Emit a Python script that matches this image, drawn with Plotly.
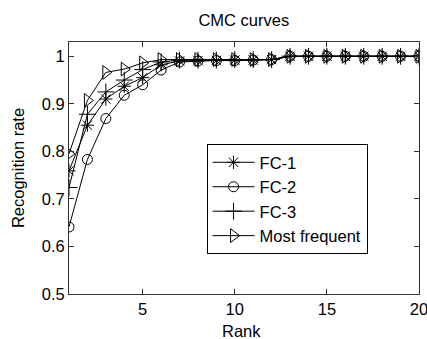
import plotly.graph_objects as go

rank = list(range(1, 21))
fc1 = [0.759, 0.855, 0.910, 0.937, 0.955, 0.982, 0.990, 0.991, 0.991, 0.992, 0.992, 0.993,
       1.0, 1.0, 1.0, 1.0, 1.0, 1.0, 1.0, 1.0]
fc2 = [0.641, 0.783, 0.869, 0.918, 0.940, 0.971, 0.988, 0.990, 0.991, 0.991, 0.992, 0.993,
       1.0, 1.0, 1.0, 1.0, 1.0, 1.0, 1.0, 1.0]
fc3 = [0.724, 0.878, 0.925, 0.950, 0.972, 0.988, 0.992, 0.992, 0.992, 0.993, 0.993, 0.993,
       1.0, 1.0, 1.0, 1.0, 1.0, 1.0, 1.0, 1.0]
most_freq = [0.795, 0.907, 0.966, 0.973, 0.986, 0.993, 0.993, 0.993, 0.993, 0.993, 0.993, 0.993,
             1.0, 1.0, 1.0, 1.0, 1.0, 1.0, 1.0, 1.0]
x_ticks = [5, 10, 15, 20]
y_ticks = [0.5, 0.6, 0.7, 0.8, 0.9, 1.0]
y_ticklabels = ["0.5", "0.6", "0.7", "0.8", "0.9", "1"]

series = [
    ("FC-1", fc1, "asterisk-open", 11),
    ("FC-2", fc2, "circle-open", 10),
    ("FC-3", fc3, "cross-thin-open", 12),
    ("Most frequent", most_freq, "triangle-right-open", 12),
]

FONT = "Arial, Liberation Sans, sans-serif"
fig = go.Figure()
for name, vals, sym, size in series:
    fig.add_trace(go.Scatter(
        x=rank, y=vals, name=name, mode="lines+markers",
        line=dict(color="black", width=1),
        marker=dict(symbol=sym, size=size, color="black",
                    line=dict(color="black", width=1)),
    ))

axis_common = dict(showline=True, linecolor="#333333", linewidth=1, mirror="ticks",
                   ticks="inside", ticklen=5, tickcolor="#333333", showgrid=False,
                   zeroline=False, automargin=True, ticklabeloverflow="allow",
                   tickfont=dict(family=FONT, size=16.5, color="black"))

fig.update_layout(
    width=427, height=339,
    margin=dict(l=69, r=8, t=42, b=45, autoexpand=False),
    paper_bgcolor="white", plot_bgcolor="white",
    font=dict(family=FONT, size=16.5, color="black"),
    title=dict(text="CMC curves", x=0.571, xanchor="center", y=0.94, yanchor="middle",
               yref="container", font=dict(family=FONT, size=16.5, color="black")),
    xaxis=dict(range=[1, 20], tickvals=x_ticks, **axis_common),
    yaxis=dict(range=[0.5, 1.03], tickvals=y_ticks, ticktext=y_ticklabels,
               title=dict(text="Recognition rate", standoff=12, font=dict(family=FONT, size=16.5)),
               **axis_common),
    annotations=[dict(text="Rank", xref="paper", yref="paper", x=0.493, y=-0.147,
                      xanchor="center", yanchor="middle", showarrow=False,
                      font=dict(family=FONT, size=16.5, color="black"))],
    legend=dict(x=0.393, y=0.595, xanchor="left", yanchor="top", itemwidth=42,
                bgcolor="white", bordercolor="black", borderwidth=1,
                font=dict(family=FONT, size=16.5, color="black")),
    showlegend=True,
)

fig.write_html("out.html", config={"displayModeBar": False},
               post_script="document.body.style.margin='0';document.body.style.overflow='hidden';")
